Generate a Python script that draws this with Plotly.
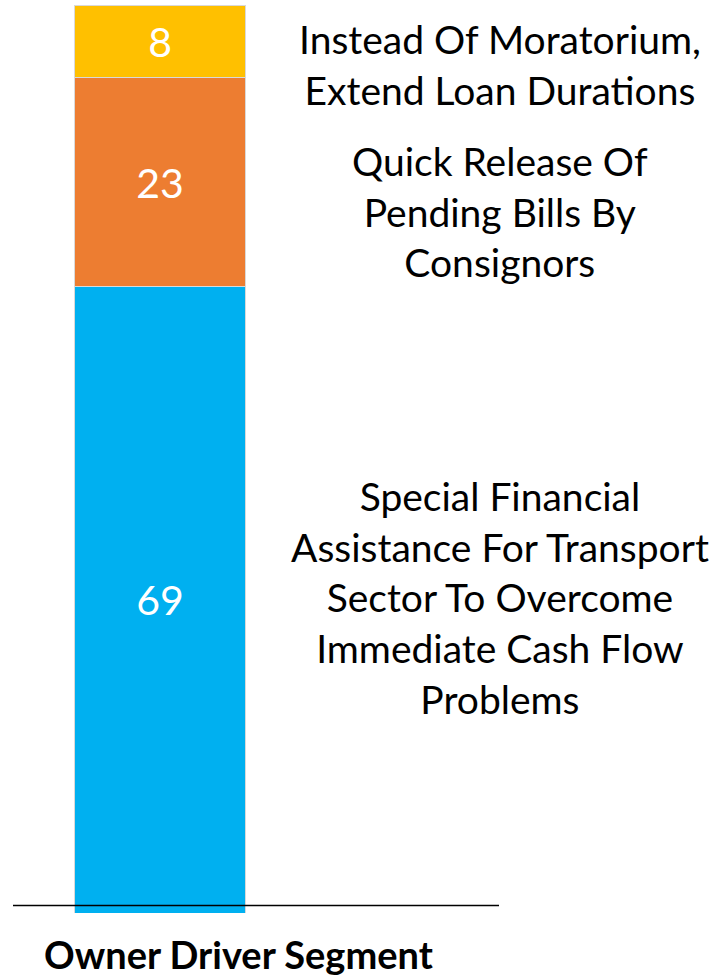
import plotly.graph_objects as go

segment = ["Owner Driver Segment"]
series_names = [
    "Special Financial Assistance For Transport Sector To Overcome Immediate Cash Flow Problems",
    "Quick Release Of Pending Bills By Consignors",
    "Instead Of Moratorium, Extend Loan Durations",
]
series_values = [69, 23, 8]
series_colors = ["#00B0F0", "#ED7D31", "#FFC000"]
label_lines = [
    "Special Financial<br>Assistance For Transport<br>Sector To Overcome<br>Immediate Cash Flow<br>Problems",
    "Quick Release Of<br>Pending Bills By<br>Consignors",
    "Instead Of Moratorium,<br>Extend Loan Durations",
]
label_y = [0.347, 0.773, 0.934]

FONT = "Lato"

fig = go.Figure()
for name, val, col in zip(series_names, series_values, series_colors):
    fig.add_trace(go.Bar(
        x=[0], y=[val], name=name, width=1,
        marker=dict(color=col, line=dict(color="#d9d9d9", width=1)),
        text=[str(val)], textposition="inside", insidetextanchor="middle",
        textfont=dict(color="white", size=41, family=FONT),
        constraintext="none", hoverinfo="skip",
    ))

for txt, yy in zip(label_lines, label_y):
    fig.add_annotation(
        x=1.002, y=yy, xref="paper", yref="paper", text=txt, showarrow=False,
        xanchor="center", yanchor="middle", align="center",
        font=dict(size=39, color="black", family=FONT),
    )

# category label under the axis
fig.add_annotation(
    x=0.463, y=-0.045, xref="paper", yref="paper", text="<b>" + segment[0] + "</b>",
    showarrow=False, xanchor="center", yanchor="middle",
    font=dict(size=38, color="black", family=FONT),
)

# horizontal axis line
fig.add_shape(type="line", xref="paper", yref="paper", x0=0, x1=1, y0=0.0083, y1=0.0083,
              line=dict(color="black", width=1.5))

fig.update_layout(
    barmode="stack", width=718, height=977, showlegend=False,
    plot_bgcolor="white", paper_bgcolor="white",
    margin=dict(l=13, r=219, t=5, b=64),
    xaxis=dict(range=[-0.86, 1.982], visible=False),
    yaxis=dict(range=[0, 100], visible=False),
)

fig.write_html("out.html", config={"displayModeBar": False},
               post_script="document.body.style.margin='0';")
